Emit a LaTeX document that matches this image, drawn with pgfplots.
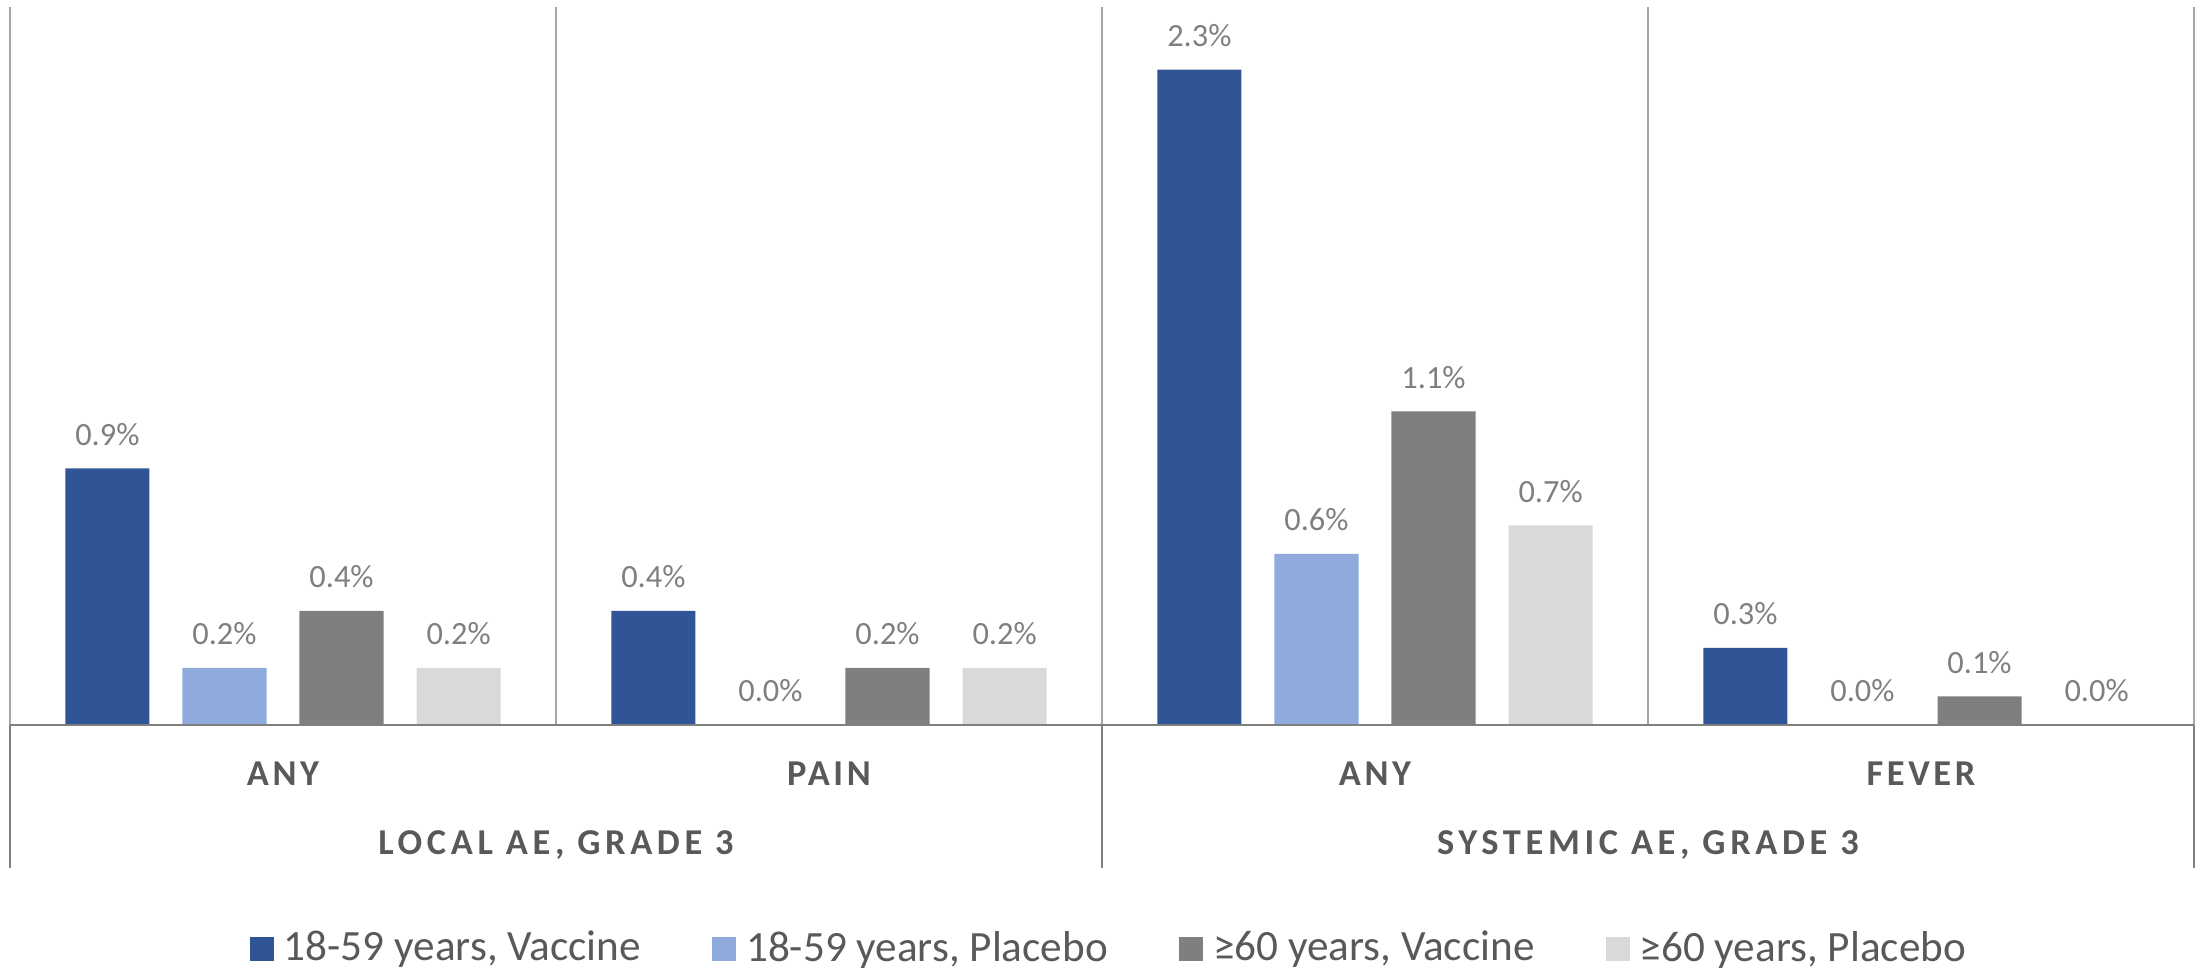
\documentclass[border=0pt]{standalone}
\usepackage{pgfplots}
\pgfplotsset{compat=1.18}
\usepackage{fontspec}
\setmainfont{Carlito}
\newfontfamily\catfont{Carlito}[LetterSpace=10]
\newfontfamily\groupfont{Carlito}[LetterSpace=12.8]

\definecolor{vac1859}{HTML}{2F5597}
\definecolor{pla1859}{HTML}{8FAADC}
\definecolor{vac60}{HTML}{7F7F7F}
\definecolor{pla60}{HTML}{D9D9D9}
\definecolor{labelgray}{HTML}{7F7F7F}
\definecolor{textgray}{HTML}{595959}
\definecolor{gridgray}{HTML}{A6A6A6}
\definecolor{axisgray}{HTML}{808080}

\begin{document}
\begin{tikzpicture}
\path[use as bounding box] (-2.5pt,-60.55pt) rectangle (549pt,181.2pt);
\begin{axis}[
    at={(0,0)}, anchor=south west,
    width=546pt, height=179.45pt, scale only axis,
    xmin=-0.5, xmax=3.5,
    ymin=0, ymax=2.52,
    clip=false,
    axis line style={draw=none},
    ytick=\empty,
    xtick={0,1,2,3},
    xticklabels={ANY,PAIN,ANY,FEVER},
    major tick length=0pt,
    xticklabel style={font=\fontsize{9.1}{11}\selectfont\catfont\bfseries,
        text=textgray, anchor=center, yshift=-12.2pt},
    ybar,
    bar width=0.154,
    nodes near coords={\pgfmathprintnumber[fixed,fixed zerofill,precision=1,assume math mode=true]{\pgfplotspointmeta}\%},
    every node near coord/.append style={font=\fontsize{8.1}{10}\selectfont,
        text=labelgray, anchor=base, yshift=5.8pt},
    legend columns=4,
    legend style={at={(0.505,-0.3125)}, anchor=center, draw=none, fill=none,
        font=\fontsize{10.8}{12}\selectfont, text=textgray,
        nodes={inner xsep=2.5pt},
        /tikz/every even column/.append style={column sep=15.3pt}},
    legend image code/.code={\fill[#1] (0pt,-3pt) rectangle (6pt,3pt);},
]
\addplot[fill=vac1859, draw=none, bar shift=-0.3216] coordinates {(0,0.9) (1,0.4) (2,2.3) (3,0.27)};
\addlegendentry{18-59 years, Vaccine}
\addplot[fill=pla1859, draw=none, bar shift=-0.1072] coordinates {(0,0.2) (1,0.0) (2,0.6) (3,0.0)};
\addlegendentry{18-59 years, Placebo}
\addplot[fill=vac60, draw=none, bar shift=0.1072] coordinates {(0,0.4) (1,0.2) (2,1.1) (3,0.1)};
\addlegendentry{≥60 years, Vaccine}
\addplot[fill=pla60, draw=none, bar shift=0.3216] coordinates {(0,0.2) (1,0.2) (2,0.7) (3,0.0)};
\addlegendentry{≥60 years, Placebo}

% category borders
\draw[gridgray, line width=0.5pt] (rel axis cs:0,0) -- (rel axis cs:0,1);
\draw[gridgray, line width=0.5pt] (rel axis cs:0.25,0) -- (rel axis cs:0.25,1);
\draw[gridgray, line width=0.5pt] (rel axis cs:0.5,0) -- (rel axis cs:0.5,1);
\draw[gridgray, line width=0.5pt] (rel axis cs:0.75,0) -- (rel axis cs:0.75,1);
\draw[gridgray, line width=0.5pt] (rel axis cs:1,0) -- (rel axis cs:1,1);
% group borders below the axis
\draw[axisgray, line width=0.5pt] (rel axis cs:0,0) -- ++(0pt,-35.8pt);
\draw[axisgray, line width=0.5pt] (rel axis cs:0.5,0) -- ++(0pt,-35.8pt);
\draw[axisgray, line width=0.5pt] (rel axis cs:1,0) -- ++(0pt,-35.8pt);
\draw[axisgray, line width=0.5pt] (rel axis cs:0,0) -- (rel axis cs:1,0);

% group labels
\node[font=\fontsize{9.1}{11}\selectfont\groupfont\bfseries, text=textgray, anchor=center, yshift=-30.1pt]
    at (rel axis cs:0.25,0) {LOCAL AE, GRADE 3};
\node[font=\fontsize{9.1}{11}\selectfont\groupfont\bfseries, text=textgray, anchor=center, yshift=-30.1pt]
    at (rel axis cs:0.75,0) {SYSTEMIC AE, GRADE 3};
\end{axis}
\end{tikzpicture}
\end{document}
